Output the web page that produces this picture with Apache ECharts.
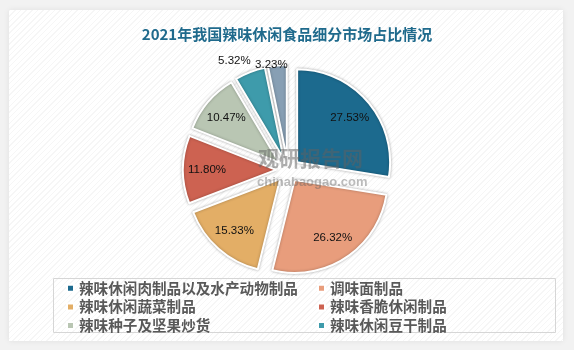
<!DOCTYPE html>
<html>
<head>
<meta charset="utf-8">
<script src="https://cdn.jsdelivr.net/npm/echarts@6/dist/echarts.min.js"></script>
<style>
  html, body { margin: 0; padding: 0; background: #f2f2f2; }
  #wrap {
    position: absolute; left: 9px; top: 10px; width: 554px; height: 331px;
    background-color: #ffffff;
    background-image: repeating-linear-gradient(135deg, rgba(0,0,0,0.035) 0px, rgba(0,0,0,0.035) 1px, transparent 1px, transparent 4px);
    box-shadow: 0 0 6px rgba(0,0,0,0.08);
  }
  #chart { position: absolute; left: 0; top: 0; width: 574px; height: 350px; }
</style>
</head>
<body>
<div id="wrap"></div>
<div id="chart"></div>
<script>
// Segment shares of China's spicy snack market, 2021 (%)
const categories = [
  '辣味休闲肉制品以及水产动物制品',
  '调味面制品',
  '辣味休闲蔬菜制品',
  '辣味香脆休闲制品',
  '辣味种子及坚果炒货',
  '辣味休闲豆干制品',
  '其他'
];
const shares = [27.53, 26.32, 15.33, 11.80, 10.47, 5.32, 3.23];
const colors = ['#1c6a8e', '#e89d7c', '#e3ae66', '#cd6251', '#b9c6b3', '#3e9bab', '#879fb4'];
const legendLeft = categories.slice(0, 6).filter((_, i) => i % 2 === 0);
const legendRight = categories.slice(0, 6).filter((_, i) => i % 2 === 1);
const smallCount = 2; // thin slices get their labels above the pie

const fmt = v => v.toFixed(2) + '%';
const center = [288, 170];
const offset = 12;
const labelFont = { color: '#111', fontSize: 11.5, fontFamily: 'Liberation Sans' };
const isSmall = i => i >= categories.length - smallCount;

const pieData = categories.map((name, i) => ({
  name, value: shares[i], selected: true, itemStyle: { color: colors[i] }
}));

// invisible twin pies that only carry the percentage labels
const innerLabelData = categories.map((name, i) => ({
  name, value: shares[i], selected: true, label: { show: !isSmall(i) }
}));
const outerLabelData = categories.map((name, i) => ({
  name, value: shares[i], selected: true, label: { show: isSmall(i) }
}));
// small shifts that keep the two top labels side by side
const smallNudge = { 5: [-12, -2], 6: [-5, 9] };

const labelSeries = (radius, data, layout) => ({
  type: 'pie',
  center, radius,
  startAngle: 90, clockwise: true,
  selectedMode: 'multiple', selectedOffset: offset,
  silent: true, z: 5,
  itemStyle: { color: 'rgba(0,0,0,0)', borderWidth: 0 },
  label: Object.assign({ position: 'inside', formatter: p => fmt(p.value) }, labelFont),
  labelLine: { show: false },
  labelLayout: layout,
  emphasis: { disabled: true },
  data
});

const legendCommon = {
  orient: 'vertical', top: 276,
  itemWidth: 7, itemHeight: 7, itemGap: 4, icon: 'rect',
  textStyle: { fontSize: 14.6, fontWeight: 'bold', color: '#595959', fontFamily: 'Noto Sans CJK SC' },
  selectedMode: false
};

const chart = echarts.init(document.getElementById('chart'), null, { renderer: 'canvas' });
chart.setOption({
  animation: false,
  title: {
    text: '2021年我国辣味休闲食品细分市场占比情况',
    left: 'center', top: 22,
    textStyle: { fontSize: 15, fontWeight: 'bold', color: '#1f6a8c', fontFamily: 'Noto Sans CJK SC' }
  },
  legend: [
    Object.assign({ data: legendLeft, left: 61 }, legendCommon),
    Object.assign({ data: legendRight, left: 312 }, legendCommon)
  ],
  graphic: [
    {
      type: 'rect', left: 51, top: 276, z: 0,
      shape: { width: 502, height: 54 },
      style: { fill: 'none', stroke: '#d6d6d6', lineWidth: 1 }
    },
    {
      type: 'text', left: 258, top: 148, z: 10, silent: true,
      style: { text: '观研报告网', fontSize: 21, fontWeight: 'bold', fill: 'rgba(95,95,95,0.5)', fontFamily: 'Noto Sans CJK SC' }
    },
    {
      type: 'text', left: 257, top: 176, z: 10, silent: true,
      style: { text: 'chinabaogao.com', fontSize: 13, fontWeight: 'bold', fill: 'rgba(95,95,95,0.42)', fontFamily: 'Liberation Sans' }
    }
  ],
  series: [
    {
      type: 'pie',
      center, radius: [0, 93],
      startAngle: 90, clockwise: true,
      selectedMode: 'multiple', selectedOffset: offset,
      label: { show: false },
      labelLine: { show: false },
      itemStyle: { borderColor: '#ffffff', borderWidth: 2, shadowBlur: 3, shadowColor: 'rgba(0,0,0,0.3)' },
      emphasis: { disabled: true },
      data: pieData
    },
    labelSeries([0, 132], innerLabelData, { hideOverlap: false }),
    labelSeries([0, 200], outerLabelData, p => {
      const d = smallNudge[p.dataIndex] || [0, 0];
      return { dx: d[0], dy: d[1], hideOverlap: false };
    })
  ]
});
</script>
</body>
</html>
